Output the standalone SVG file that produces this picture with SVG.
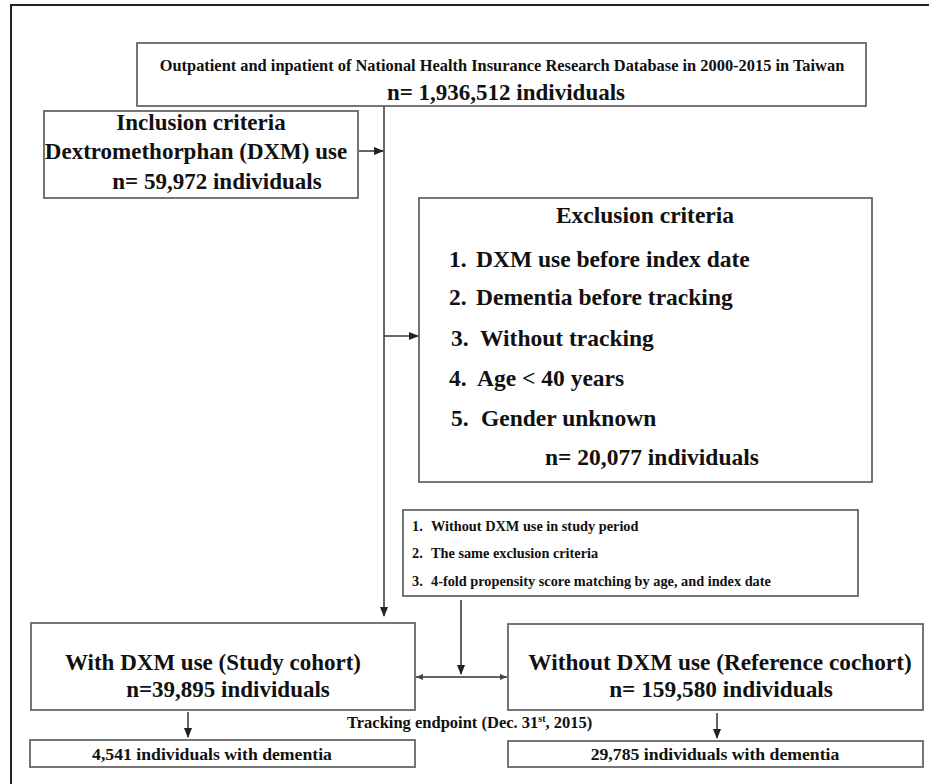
<svg xmlns="http://www.w3.org/2000/svg" width="929" height="784" viewBox="0 0 929 784">
<style>
text{font-family:"Liberation Serif","Times New Roman",serif;font-weight:bold;fill:#111}
.box{fill:#fff;stroke:#666;stroke-width:1.8}
.ln{fill:none;stroke:#333;stroke-width:1.5}
.frame{fill:none;stroke:#222;stroke-width:2}
.c{text-anchor:middle}
.ex{font-size:23.5px}
.mt{font-size:14.3px}
.big{font-size:23px}
.dm{font-size:17.7px}
</style>
<defs>
<marker id="ah" markerWidth="10" markerHeight="8" refX="9" refY="4" orient="auto" markerUnits="userSpaceOnUse">
<path d="M0,0 L10,4 L0,8 Z" fill="#222"/>
</marker>
<marker id="ahs" markerWidth="7" markerHeight="6" refX="7" refY="3" orient="auto-start-reverse" markerUnits="userSpaceOnUse">
<path d="M0,0 L7,3 L0,6 Z" fill="#444"/>
</marker>
</defs>
<rect width="929" height="784" fill="#fff"/>
<path class="frame" d="M11,784 V5 H929"/>

<g id="connectors">
<path class="ln" d="M384,106 V616" marker-end="url(#ah)"/>
<path class="ln" d="M359,151 H383" marker-end="url(#ah)"/>
<path class="ln" d="M384,336 H418" marker-end="url(#ah)"/>
<path class="ln" d="M461,600 V674" marker-end="url(#ah)"/>
<path class="ln" d="M416,677 H507" marker-start="url(#ahs)" marker-end="url(#ahs)"/>
<path class="ln" d="M188,712 V737" marker-end="url(#ah)"/>
<path class="ln" d="M717,713 V738" marker-end="url(#ah)"/>
</g>

<g id="source">
<rect class="box" x="137" y="43" width="729" height="63"/>
<text class="c" x="502" y="71" font-size="16.4">Outpatient and inpatient of National Health Insurance Research Database in 2000-2015 in Taiwan</text>
<text class="c" x="506" y="100" font-size="23">n= 1,936,512 individuals</text>
</g>

<g id="inclusion">
<rect class="box" x="44" y="111" width="314" height="87"/>
<text class="c" x="201" y="130" font-size="23">Inclusion criteria</text>
<text class="c" x="196" y="159" font-size="23">Dextromethorphan (DXM) use</text>
<text class="c" x="217" y="189" font-size="23">n= 59,972 individuals</text>
</g>

<g id="exclusion">
<rect class="box" x="419" y="198" width="453" height="284"/>
<text class="c ex" x="645" y="223">Exclusion criteria</text>
<text class="ex" x="449" y="267">1.</text><text class="ex" x="476" y="267">DXM use before index date</text>
<text class="ex" x="449" y="305">2.</text><text class="ex" x="476" y="305">Dementia before tracking</text>
<text class="ex" x="451" y="346">3.</text><text class="ex" x="480" y="346">Without tracking</text>
<text class="ex" x="449" y="386">4.</text><text class="ex" x="477" y="386">Age &lt; 40 years</text>
<text class="ex" x="451" y="426">5.</text><text class="ex" x="481" y="426">Gender unknown</text>
<text class="ex" x="545" y="465">n= 20,077 individuals</text>
</g>

<g id="matching">
<rect class="box" x="403" y="510" width="455" height="86"/>
<text class="mt" x="412" y="531">1.</text><text class="mt" x="431" y="531">Without DXM use in study period</text>
<text class="mt" x="412" y="558">2.</text><text class="mt" x="431" y="558">The same exclusion criteria</text>
<text class="mt" x="412" y="586">3.</text><text class="mt" x="431" y="586">4-fold propensity score matching by age, and index date</text>
</g>

<g id="study">
<rect class="box" x="31" y="623" width="384" height="87"/>
<text class="c big" x="213" y="670">With DXM use (Study cohort)</text>
<text class="c big" x="228" y="697">n=39,895 individuals</text>
</g>

<g id="reference">
<rect class="box" x="508" y="624" width="415" height="86"/>
<text class="c" x="720" y="670" font-size="23.3">Without DXM use (Reference cochort)</text>
<text class="c" x="721" y="697" font-size="23.3">n= 159,580 individuals</text>
</g>

<g id="endpoint-label">
<text x="347" y="728" font-size="16.5">Tracking endpoint (Dec. 31<tspan font-size="10" dy="-6">st</tspan><tspan dy="6">, 2015)</tspan></text>
</g>

<g id="study-dementia">
<rect class="box" x="30" y="740" width="385" height="27"/>
<text class="c dm" x="212" y="760">4,541 individuals with dementia</text>
</g>

<g id="reference-dementia">
<rect class="box" x="508" y="741" width="415" height="26"/>
<text class="c dm" x="715" y="760">29,785 individuals with dementia</text>
</g>
</svg>
